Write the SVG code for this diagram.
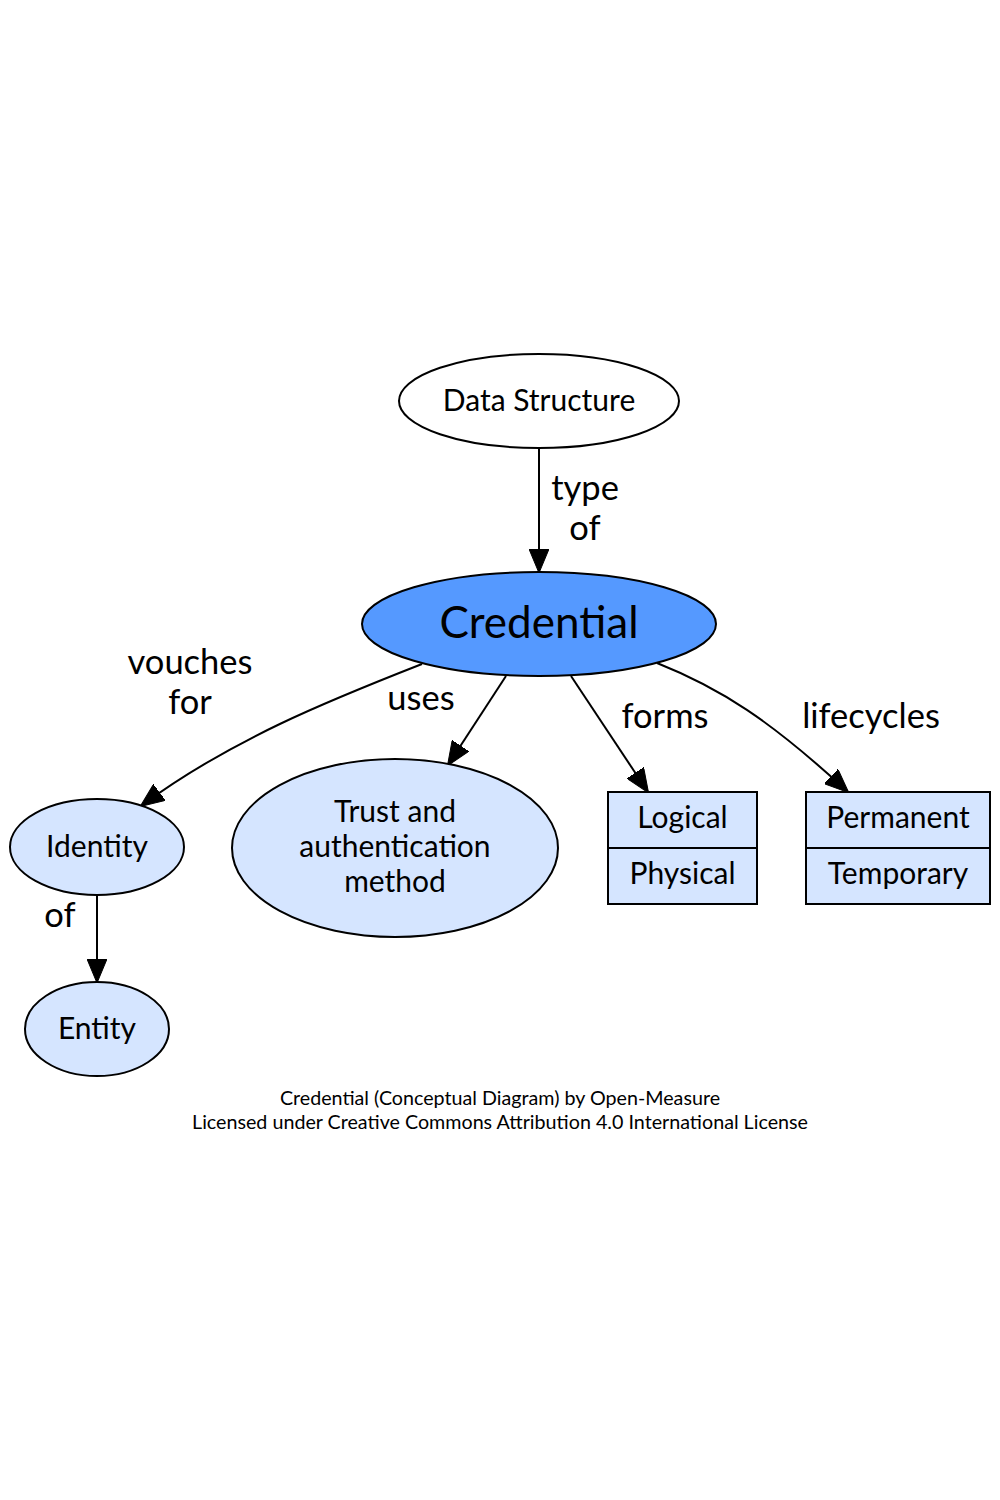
<svg xmlns="http://www.w3.org/2000/svg" width="1000" height="1500" viewBox="0 0 1000 1500">
<style>
text { font-family: Lato, "Liberation Sans", sans-serif; fill: #000; text-anchor: middle; }
.n { font-size: 30px; }
.e { font-size: 34.5px; }
.f { font-size: 19.7px; }
.shape { stroke: #000; stroke-width: 2; }
.light { fill: #d5e5ff; }
.edge { fill: none; stroke: #000; stroke-width: 2; marker-end: url(#arr); }
</style>
<defs>
<marker id="arr" viewBox="0 0 24 20" markerWidth="24" markerHeight="20" refX="23" refY="10" orient="auto" markerUnits="userSpaceOnUse">
<path d="M0,0 L24,10 L0,20 z" fill="#000" stroke="#000" stroke-width="1"/>
</marker>
</defs>
<rect width="1000" height="1500" fill="#fff"/>
<g id="connectors">
<path class="edge" d="M539,449 L539,572"/>
<path class="edge" d="M422,664 C330,700 230,740 141,806"/>
<path class="edge" d="M506,676 L448,765"/>
<path class="edge" d="M571,676 L648,792"/>
<path class="edge" d="M657,663 C720,688 770,720 848,792"/>
<path class="edge" d="M97,896 L97,982"/>
<text class="e" x="585" y="500">type</text>
<text class="e" x="585" y="540">of</text>
<text class="e" x="190" y="674">vouches</text>
<text class="e" x="190" y="714">for</text>
<text class="e" x="421" y="710">uses</text>
<text class="e" x="665" y="728">forms</text>
<text class="e" x="871" y="728">lifecycles</text>
<text class="e" x="60" y="927">of</text>
</g>
<g id="data-structure">
<ellipse class="shape" cx="539" cy="401" rx="140" ry="47" fill="#fff"/>
<text class="n" x="539" y="411">Data Structure</text>
</g>
<g id="credential">
<ellipse class="shape" cx="539" cy="624" rx="177" ry="52" fill="#5599ff"/>
<text x="539" y="638" style="font-size:44px">Credential</text>
</g>
<g id="identity">
<ellipse class="shape light" cx="97" cy="847" rx="87" ry="48"/>
<text class="n" x="97" y="857">Identity</text>
</g>
<g id="entity">
<ellipse class="shape light" cx="97" cy="1029" rx="72" ry="47"/>
<text class="n" x="97" y="1039">Entity</text>
</g>
<g id="trust">
<ellipse class="shape light" cx="395" cy="848" rx="163" ry="89"/>
<text class="n" x="395" y="822">Trust and</text>
<text class="n" x="395" y="857">authentication</text>
<text class="n" x="395" y="892">method</text>
</g>
<g id="forms-record">
<rect class="shape light" x="608" y="792" width="149" height="112"/>
<line class="shape" x1="608" y1="848" x2="757" y2="848"/>
<text class="n" x="682.5" y="828">Logical</text>
<text class="n" x="682.5" y="884">Physical</text>
</g>
<g id="lifecycles-record">
<rect class="shape light" x="806" y="792" width="184" height="112"/>
<line class="shape" x1="806" y1="848" x2="990" y2="848"/>
<text class="n" x="898" y="828">Permanent</text>
<text class="n" x="898" y="884">Temporary</text>
</g>
<g id="footer">
<text class="f" x="500" y="1105">Credential (Conceptual Diagram) by Open-Measure</text>
<text class="f" x="500" y="1129">Licensed under Creative Commons Attribution 4.0 International License</text>
</g>
</svg>
